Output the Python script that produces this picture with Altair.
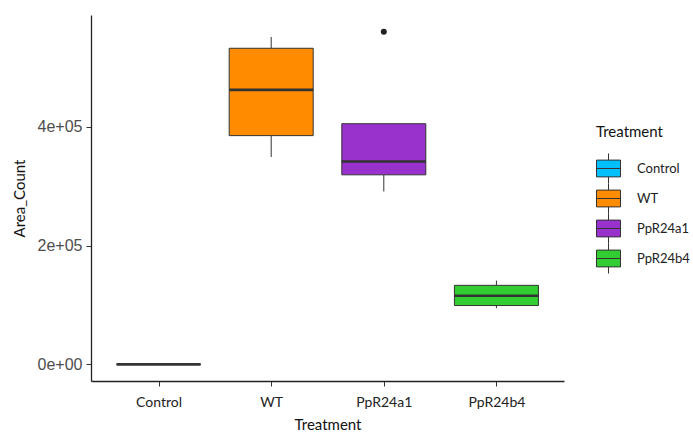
import altair as alt
import pandas as pd

# Box-plot summary of Area_Count per treatment
treatments = ["Control", "WT", "PpR24a1", "PpR24b4"]
lower = [0, 349000, 291000, 94500]
q1 = [0, 385000, 319000, 99000]
median = [0, 462000, 341500, 115500]
q3 = [0, 532000, 405000, 133000]
upper = [0, 551000, 405000, 141000]
colors = ["#00BFFF", "#FF8C00", "#9932CC", "#32CD32"]

outlier_treatment = ["PpR24a1"]
outlier_value = [560000]

stats = pd.DataFrame({
    "Treatment": treatments,
    "lower": lower,
    "q1": q1,
    "median": median,
    "q3": q3,
    "upper": upper,
})
outliers = pd.DataFrame({"Treatment": outlier_treatment, "Area_Count": outlier_value})

y_min, y_max = 0, max(outlier_value)
pad = (y_max - y_min) * 0.05
y_scale = alt.Scale(domain=[y_min - pad, y_max + pad], nice=False, zero=False)

x_enc = alt.X(
    "Treatment:N",
    sort=treatments,
    scale=alt.Scale(type="point", padding=0.6),
    title="Treatment",
    axis=alt.Axis(
        labelFont="Lato", labelFontSize=14, labelColor="#222222", labelPadding=9,
        titleFont="Lato", titleFontSize=15, titleFontWeight="normal", titleColor="#111111",
        titlePadding=8, tickSize=5, tickColor="#333333", domainColor="#222222",
        domainWidth=1.3, labelAngle=0, grid=False,
    ),
)

box_symbol = "M-1,-0.7H1V0.7H-1Z M-1,0H1 M0,-0.7V-1.25 M0,0.7V1.25"

color_enc = alt.Color(
    "Treatment:N",
    sort=treatments,
    scale=alt.Scale(domain=treatments, range=colors),
    legend=alt.Legend(
        title="Treatment", orient="none", legendX=505, legendY=110,
        symbolType=box_symbol, symbolSize=576, symbolStrokeColor="#333333",
        symbolStrokeWidth=1, symbolOpacity=1, labelOffset=16, rowPadding=-5,
        titleFont="Lato", titleFontSize=15, titleFontWeight="normal", titleColor="#111111",
        titlePadding=16, labelFont="Lato", labelFontSize=13, labelColor="#222222",
    ),
)

base = alt.Chart(stats).encode(x=x_enc)

whisker_low = base.mark_rule(color="#333333", strokeWidth=1).encode(
    y=alt.Y(
        "lower:Q", scale=y_scale, title="Area_Count",
        axis=alt.Axis(
            values=[0, 200000, 400000],
            labelExpr="replace(format(datum.value, '.0e'), 'e+', 'e+0')",
            labelFont="Liberation Sans", labelFontSize=16, labelColor="#4D4D4D",
            labelPadding=4, tickSize=5, tickColor="#333333", domainColor="#222222",
            domainWidth=1.3, grid=False,
            titleFont="Lato", titleFontSize=15, titleFontWeight="normal",
            titleColor="#111111", titlePadding=10,
        ),
    ),
    y2="q1:Q",
)
whisker_high = base.mark_rule(color="#333333", strokeWidth=1).encode(
    y=alt.Y("q3:Q", scale=y_scale), y2="upper:Q"
)
boxes = base.mark_bar(size=84, stroke="#333333", strokeWidth=1, opacity=1).encode(
    y=alt.Y("q1:Q", scale=y_scale), y2="q3:Q", fill=color_enc
)
medians = base.mark_tick(size=84, thickness=2.6, color="#333333", opacity=1).encode(
    y=alt.Y("median:Q", scale=y_scale)
)
points = alt.Chart(outliers).mark_point(
    filled=True, size=36, color="#222222", opacity=1
).encode(
    x=alt.X("Treatment:N", sort=treatments),
    y=alt.Y("Area_Count:Q", scale=y_scale),
)

chart = (
    alt.layer(whisker_low, whisker_high, boxes, medians, points)
    .properties(
        width=473, height=366,
        autosize=alt.AutoSizeParams(type="none"),
        padding={"left": 91, "top": 15, "right": 129, "bottom": 51},
        background="white",
    )
    .configure_view(stroke=None)
)

chart.save("out.html", embed_options={"renderer": "svg", "actions": False})
